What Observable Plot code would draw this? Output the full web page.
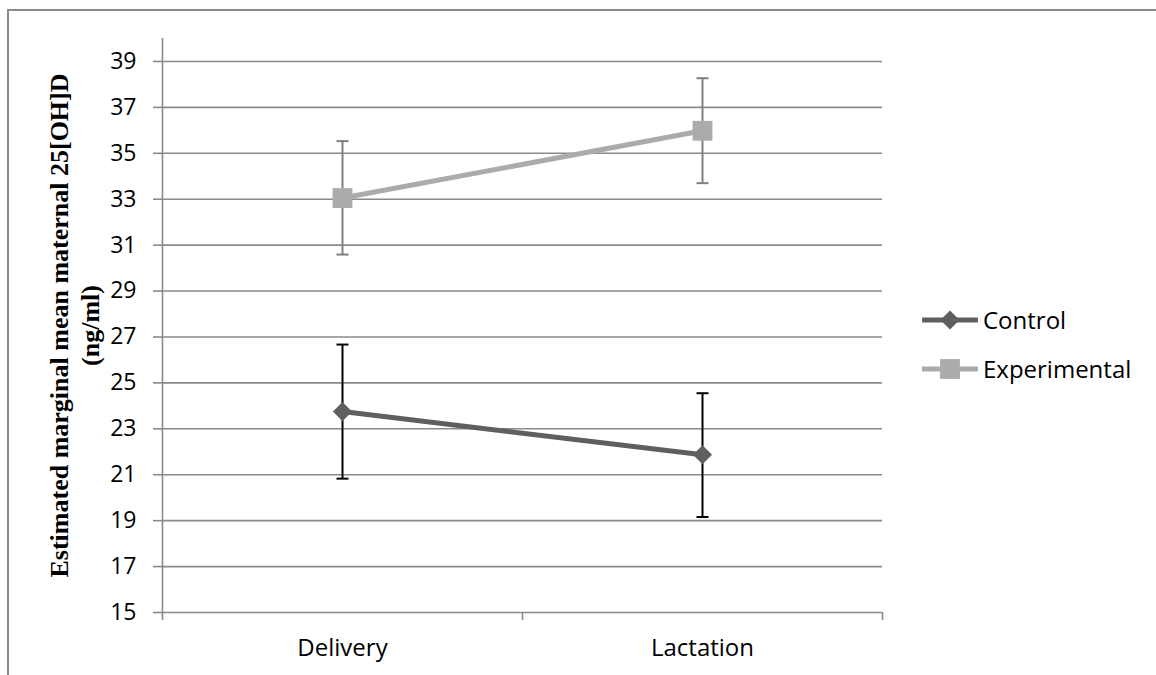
<!DOCTYPE html>
<html>
<head>
<meta charset="utf-8">
<script src="https://cdn.jsdelivr.net/npm/d3@7"></script>
<script src="https://cdn.jsdelivr.net/npm/@observablehq/plot@0.6"></script>
<style>
  html, body { margin: 0; padding: 0; background: #fff; }
  #wrap { position: relative; width: 1156px; height: 675px; overflow: hidden; font-family: "Open Sans", sans-serif; }
  #frame { position: absolute; left: 7px; top: 9px; width: 1200px; height: 800px; border-left: 2px solid #8a8a8a; border-top: 2px solid #8a8a8a; }
  #chart { position: absolute; left: 0; top: 0; }
  .legend { position: absolute; left: 922px; font-size: 24px; color: #000; display: flex; align-items: center; }
  .legend svg { margin-right: 5px; }
</style>
</head>
<body>
<div id="wrap">
  <div id="frame"></div>
  <div id="chart"></div>
</div>
<script>
// ---- data ----
const categories = ["Delivery", "Lactation"];
const groups = ["Control", "Experimental"];
const controlMean = [23.75, 21.87];
const controlLow  = [20.83, 19.16];
const controlHigh = [26.67, 24.55];
const expMean = [33.05, 35.98];
const expLow  = [30.59, 33.70];
const expHigh = [35.53, 38.27];
const yTicks = [15, 17, 19, 21, 23, 25, 27, 29, 31, 33, 35, 37, 39];
const yTitle = "Estimated marginal mean maternal 25[OH]D\n(ng/ml)";

const colors = {Control: "#5f5f5f", Experimental: "#ababab"};
const errColors = {Control: "#000000", Experimental: "#808080"};
const symR = {Control: 8.6, Experimental: 11.2};

// build table
const rows = [];
groups.forEach(g => {
  const m = g === "Control" ? controlMean : expMean;
  const lo = g === "Control" ? controlLow : expLow;
  const hi = g === "Control" ? controlHigh : expHigh;
  categories.forEach((c, i) => rows.push({group: g, cat: c, pos: i + 0.5, mean: m[i], low: lo[i], high: hi[i]}));
});

const capSymbol = {
  draw(context, size) {
    const h = Math.sqrt(size / Math.PI);
    context.moveTo(-h, 0);
    context.lineTo(h, 0);
  }
};

const gridColor = "#8a8a8a";
const catPositions = categories.map((c, i) => i + 0.5);
const catBounds = d3.range(categories.length + 1);

const plot = Plot.plot({
  width: 1156,
  height: 675,
  marginLeft: 162,
  marginRight: 274,
  marginTop: 38,
  marginBottom: 63,
  style: {fontFamily: "'Open Sans', sans-serif", color: "#000", background: "transparent"},
  x: {domain: [0, categories.length], axis: null},
  y: {domain: [15, 40], axis: null},
  marks: [
    Plot.gridY(yTicks, {stroke: gridColor, strokeOpacity: 1, strokeWidth: 1.6}),
    Plot.ruleX([0], {y1: 15, y2: 40, stroke: gridColor, strokeWidth: 1.6}),
    Plot.axisY({ticks: yTicks, label: null, tickSize: 9, tickPadding: 17, fontSize: 23, stroke: gridColor, strokeWidth: 1.6, tickFormat: d => String(d)}),
    Plot.axisX({ticks: catBounds, label: null, tickSize: 8, tickFormat: () => "", stroke: gridColor, strokeWidth: 1.6}),
    Plot.axisX({ticks: catPositions, label: null, tickSize: 0, tickPadding: 26, fontSize: 24, tickFormat: d => categories[Math.floor(d)]}),
    Plot.text([yTitle], {frameAnchor: "left", textAnchor: "middle", lineAnchor: "middle", rotate: -90, dx: -89, fontFamily: "'Liberation Serif', 'Times New Roman', serif", fontWeight: "bold", fontSize: 26, lineHeight: 1.19, fill: "#000"}),
    Plot.line(rows, {x: "pos", y: "mean", z: "group", stroke: d => colors[d.group], strokeWidth: 5}),
    Plot.ruleX(rows, {x: "pos", y1: "low", y2: "high", stroke: d => errColors[d.group], strokeWidth: 2}),
    Plot.dot(rows, {x: "pos", y: "low", symbol: capSymbol, r: 6, stroke: d => errColors[d.group], strokeWidth: 2, fill: "none"}),
    Plot.dot(rows, {x: "pos", y: "high", symbol: capSymbol, r: 6, stroke: d => errColors[d.group], strokeWidth: 2, fill: "none"}),
    Plot.dot(rows.filter(d => d.group === "Control"), {x: "pos", y: "mean", symbol: "diamond2", r: symR.Control, fill: colors.Control, stroke: "none"}),
    Plot.dot(rows.filter(d => d.group === "Experimental"), {x: "pos", y: "mean", symbol: "square", r: symR.Experimental, fill: colors.Experimental, stroke: "none"})
  ]
});
document.getElementById("chart").appendChild(plot);

// legend
const legendTops = {Control: 320, Experimental: 369};
const wrap = document.getElementById("wrap");
groups.forEach(g => {
  const div = document.createElement("div");
  div.className = "legend";
  div.style.top = (legendTops[g] - 17) + "px";
  const ns = "http://www.w3.org/2000/svg";
  const svg = document.createElementNS(ns, "svg");
  svg.setAttribute("width", 56);
  svg.setAttribute("height", 24);
  const line = document.createElementNS(ns, "line");
  line.setAttribute("x1", 1); line.setAttribute("x2", 55);
  line.setAttribute("y1", 12); line.setAttribute("y2", 12);
  line.setAttribute("stroke", colors[g]); line.setAttribute("stroke-width", 5);
  line.setAttribute("stroke-linecap", "round");
  svg.appendChild(line);
  const p = document.createElementNS(ns, "path");
  const sym = g === "Control" ? d3.symbolDiamond2 : d3.symbolSquare;
  const size = Math.PI * symR[g] * symR[g];
  p.setAttribute("d", d3.symbol(sym, size)());
  p.setAttribute("transform", "translate(28,12)");
  p.setAttribute("fill", colors[g]);
  svg.appendChild(p);
  div.appendChild(svg);
  const span = document.createElement("span");
  span.textContent = g;
  div.appendChild(span);
  wrap.appendChild(div);
});
</script>
</body>
</html>
